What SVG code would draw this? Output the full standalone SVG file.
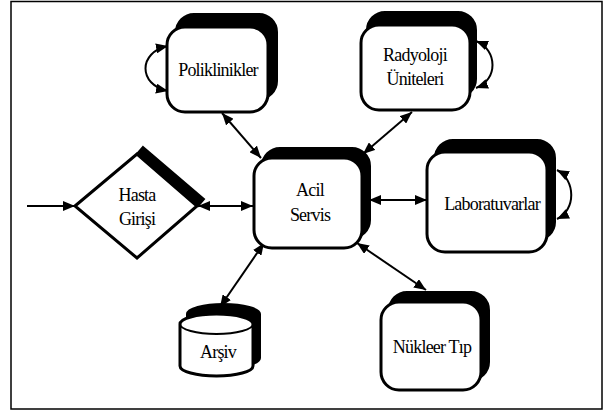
<svg xmlns="http://www.w3.org/2000/svg" width="608" height="413" viewBox="0 0 608 413">
<defs>
<marker id="ah" viewBox="0 0 12 10" refX="12" refY="5" markerWidth="12" markerHeight="10" markerUnits="userSpaceOnUse" orient="auto-start-reverse">
<path d="M0,0 L12,5 L0,10 z" fill="#000"/>
</marker>
<style>
.shadow{fill:#000;stroke:#000;stroke-width:2}
.box{fill:#fff;stroke:#000;stroke-width:3}
text{font-family:"Liberation Serif",serif;font-size:18px;fill:#000;text-anchor:middle;letter-spacing:-0.8px}
.conn{fill:none;stroke:#000;stroke-width:2}
</style>
</defs>
<rect x="11" y="1.5" width="591" height="407.5" fill="#fff" stroke="#000" stroke-width="1.5"/>

<g id="connectors">
<line class="conn" x1="27" y1="206" x2="75" y2="206" marker-end="url(#ah)"/>
<line class="conn" x1="198" y1="206" x2="253" y2="206" marker-start="url(#ah)" marker-end="url(#ah)"/>
<line class="conn" x1="222" y1="113" x2="261" y2="158" marker-start="url(#ah)" marker-end="url(#ah)"/>
<line class="conn" x1="412" y1="112" x2="363" y2="154" marker-start="url(#ah)" marker-end="url(#ah)"/>
<line class="conn" x1="369" y1="200" x2="427" y2="200" marker-start="url(#ah)" marker-end="url(#ah)"/>
<line class="conn" x1="264" y1="243" x2="220" y2="307" marker-start="url(#ah)" marker-end="url(#ah)"/>
<line class="conn" x1="357" y1="243" x2="426" y2="290" marker-start="url(#ah)" marker-end="url(#ah)"/>
<path class="conn" d="M168,46 C138,52 138,85 168,91" marker-start="url(#ah)" marker-end="url(#ah)"/>
<path class="conn" d="M476,41 C498,50 498,80 476,88" marker-start="url(#ah)" marker-end="url(#ah)"/>
<path class="conn" d="M557,170 C576,180 576,210 557,219" marker-start="url(#ah)" marker-end="url(#ah)"/>
</g>

<g id="poliklinikler">
<rect class="shadow" x="176" y="14" width="101" height="85" rx="18"/>
<rect class="box" x="167" y="27" width="101" height="85" rx="18"/>
<text x="218" y="76">Poliklinikler</text>
</g>

<g id="radyoloji">
<rect class="shadow" x="367" y="12" width="109" height="85" rx="18"/>
<rect class="box" x="361" y="25" width="109" height="85" rx="18"/>
<text x="415" y="61">Radyoloji</text>
<text x="415" y="85">Üniteleri</text>
</g>

<g id="acil">
<rect class="shadow" x="262" y="148" width="108" height="90" rx="18"/>
<rect class="box" x="254" y="158" width="108" height="90" rx="18"/>
<text x="310" y="196">Acil</text>
<text x="310" y="221">Servis</text>
</g>

<g id="hasta">
<polygon class="shadow" points="143,147 204,199 198,206 137,154"/>
<polygon class="box" points="75,206 137,154 197,206 137,258" stroke-width="2.5"/>
<text x="137" y="201">Hasta</text>
<text x="137" y="225">Girişi</text>
</g>

<g id="laboratuvarlar">
<rect class="shadow" x="435" y="140" width="120" height="100" rx="18"/>
<rect class="box" x="427" y="152" width="120" height="100" rx="18"/>
<text x="492" y="210">Laboratuvarlar</text>
</g>

<g id="arsiv">
<path class="shadow" d="M187,314 A36.5,10 0 0 1 260,314 L260,358 A36.5,10 0 0 1 187,358 z"/>
<path class="box" d="M180,324 A36.5,10 0 0 1 253,324 L253,366 A36.5,10 0 0 1 180,366 z" stroke-width="2.5"/>
<path class="conn" d="M180,324 A36.5,10 0 0 0 253,324" stroke-width="2.5"/>
<text x="218" y="358">Arşiv</text>
</g>

<g id="nukleer">
<rect class="shadow" x="389" y="292" width="100" height="88" rx="18"/>
<rect class="box" x="381" y="302" width="100" height="88" rx="18"/>
<text x="432" y="353">Nükleer Tıp</text>
</g>
</svg>
